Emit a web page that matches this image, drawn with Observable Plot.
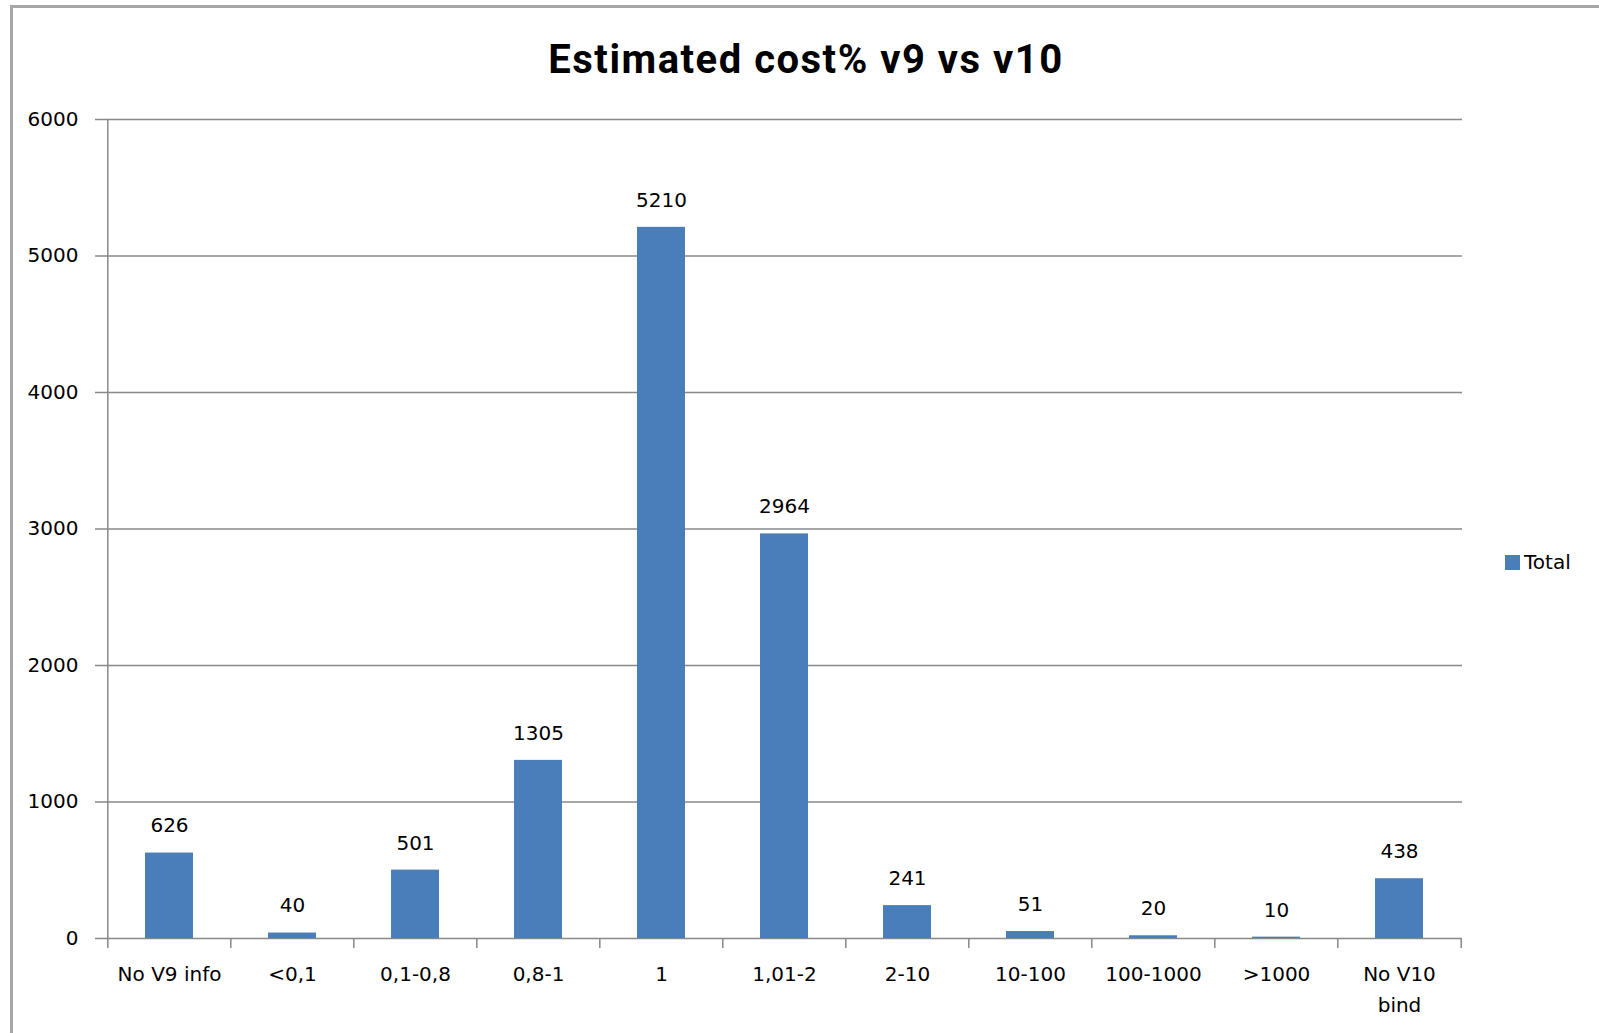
<!DOCTYPE html>
<html>
<head>
<meta charset="utf-8">
<script src="https://cdn.jsdelivr.net/npm/d3@7"></script>
<script src="https://cdn.jsdelivr.net/npm/@observablehq/plot@0.6"></script>
<style>
  html, body { margin: 0; padding: 0; background: #fff; overflow: hidden; }
  #wrap { position: relative; width: 1599px; height: 1033px; overflow: hidden; }
  #border { position: absolute; left: 10px; top: 5px; width: 1700px; height: 1100px; border: 3px solid #a6a6a6; box-sizing: border-box; }
  #title { position: absolute; left: 0; top: 36px; width: 1612px; text-align: center; font-family: Roboto, sans-serif; font-weight: bold; font-size: 40px; letter-spacing: 1.5px; color: #000; }
  #legend { position: absolute; left: 1505px; top: 550px; font-family: "DejaVu Sans", sans-serif; font-size: 20px; color: #000; display: flex; align-items: center; }
  #legend span.sw { display: inline-block; width: 15px; height: 15px; background: #4a7ebb; margin-right: 4px; }
  #chart { position: absolute; left: 0; top: 0; }
</style>
</head>
<body>
<div id="wrap">
  <div id="border"></div>
  <div id="title">Estimated cost% v9 vs v10</div>
  <div id="legend"><span class="sw"></span><span>Total</span></div>
  <div id="chart"></div>
</div>
<script>
const categories = ["No V9 info", "<0,1", "0,1-0,8", "0,8-1", "1", "1,01-2", "2-10", "10-100", "100-1000", ">1000", "No V10 bind"];
const categoryLabels = ["No V9 info", "<0,1", "0,1-0,8", "0,8-1", "1", "1,01-2", "2-10", "10-100", "100-1000", ">1000", "No V10\nbind"];
const totals = [626, 40, 501, 1305, 5210, 2964, 241, 51, 20, 10, 438];
const yTicks = [0, 1000, 2000, 3000, 4000, 5000, 6000];

const data = categories.map((c, i) => ({category: c, total: totals[i]}));
const labelOf = new Map(categories.map((c, i) => [c, categoryLabels[i]]));

const W = 1599, H = 1033;
const mL = 105, mR = 137, mT = 119, mB = 95;
const step = (W - mL - mR) / categories.length;
const barColor = "#4a7ebb";
const lineColor = "#888888";
const font = "DejaVu Sans, sans-serif";

const chart = Plot.plot({
  width: W,
  height: H,
  marginLeft: mL,
  marginRight: mR,
  marginTop: mT,
  marginBottom: mB,
  style: {fontFamily: font, fontSize: "20px", color: "#000", background: "transparent", overflow: "visible"},
  x: {type: "band", domain: categories, paddingInner: 0.61, paddingOuter: 0.305, label: null},
  y: {domain: [0, 6000], label: null},
  marks: [
    Plot.gridY(yTicks, {stroke: lineColor, strokeOpacity: 1, strokeWidth: 1.5}),
    Plot.axisY(yTicks, {tickSize: 10, tickPadding: 17, tickFormat: d => String(d), stroke: lineColor, strokeWidth: 1.5, fill: "#000", fontSize: 20, label: null}),
    Plot.barY(data, {x: "category", y: "total", fill: barColor}),
    Plot.text(data, {x: "category", y: "total", text: d => String(d.total), dy: -27, lineAnchor: "middle", fill: "#000", fontSize: 20}),
    // y-axis line
    Plot.ruleX([categories[0]], {x: d => d, dx: -step / 2, y1: 0, y2: 6000, stroke: lineColor, strokeWidth: 1.5}),
    // category boundary tick marks
    Plot.ruleX(categories, {x: d => d, dx: -step / 2, y1: 0, y2: 0, insetBottom: -10, stroke: lineColor, strokeWidth: 1.5}),
    Plot.ruleX([categories[categories.length - 1]], {x: d => d, dx: step / 2, y1: 0, y2: 0, insetBottom: -10, stroke: lineColor, strokeWidth: 1.5}),
    Plot.axisX({tickSize: 0, tickPadding: 20, tickFormat: d => labelOf.get(d), lineHeight: 1.55, fill: "#000", fontSize: 20, label: null})
  ]
});
document.getElementById("chart").appendChild(chart);
</script>
</body>
</html>
